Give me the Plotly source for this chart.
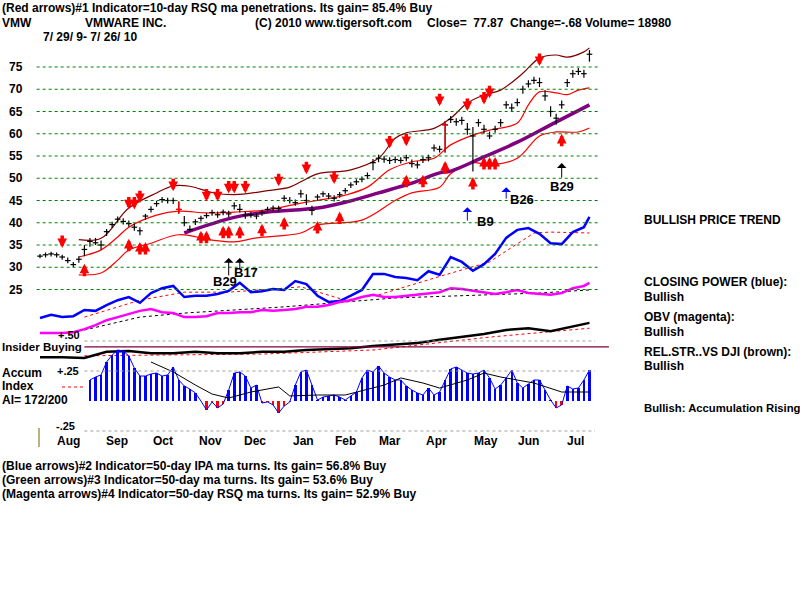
import plotly.graph_objects as go

# ---------------- data ----------------
close = [32.5,32.8,33.0,32.8,32.3,31.5,30.6,31.8,34.0,35.8,
         35.5,35.0,38.0,39.6,40.8,40.3,39.8,39.0,38.2,41.5,
         43.0,44.3,45.2,45.0,45.0,43.0,40.0,38.5,40.2,41.0,
         41.6,42.3,41.8,42.4,42.0,43.8,43.0,41.7,41.8,41.5,
         42.3,43.0,43.3,43.2,45.5,45.0,44.5,46.5,45.0,42.8,
         45.8,46.5,46.0,45.5,46.3,47.2,48.5,49.2,49.8,50.6,
         53.5,54.5,54.3,54.0,54.2,54.0,54.6,53.3,53.0,54.2,
         54.6,56.8,56.5,62.0,63.2,62.7,63.0,61.0,59.5,62.5,
         61.0,59.5,61.0,62.5,66.5,65.8,67.0,70.0,71.2,72.0,
         71.5,68.5,65.0,63.5,66.5,71.5,73.5,74.0,73.5,77.87]
high = [33.0,33.3,33.5,33.3,32.8,32.2,31.2,32.5,35.0,36.6,
        36.6,36.0,38.6,40.2,41.4,41.0,40.5,39.8,39.0,42.0,
        43.7,44.9,45.8,45.6,45.6,44.8,41.5,39.4,40.8,41.6,
        42.2,42.9,42.5,43.0,42.7,44.6,44.2,42.5,42.4,42.2,
        42.9,43.6,43.9,43.8,46.2,45.8,45.2,47.4,46.4,43.8,
        46.4,47.1,46.7,46.2,46.9,47.8,49.1,49.8,50.4,51.3,
        54.3,55.3,55.0,54.7,54.9,54.7,55.3,54.2,53.8,54.9,
        55.3,57.6,57.3,62.8,64.0,63.5,63.8,62.4,61.5,63.3,
        62.0,60.5,61.8,63.3,67.3,66.8,67.9,70.8,72.0,72.8,
        72.6,69.8,66.2,64.5,67.5,72.3,74.3,74.8,74.4,78.8]
low = [32.0,32.2,32.4,32.2,31.7,30.9,30.0,31.0,32.5,34.6,
       35.0,34.0,37.0,38.8,40.0,39.6,39.1,38.2,37.2,40.6,
       42.3,43.6,44.5,44.3,44.2,42.0,39.2,37.9,39.5,40.3,
       41.0,41.6,41.1,41.7,41.3,43.0,42.3,40.9,41.1,40.8,
       41.6,42.3,42.6,42.5,44.7,44.3,43.8,45.6,44.0,41.7,
       45.0,45.8,45.3,44.8,45.6,46.5,47.8,48.5,49.1,49.8,
       51.8,53.6,53.5,53.2,53.4,53.3,53.8,52.4,52.2,53.4,
       53.8,56.0,55.8,55.8,62.4,61.8,62.0,59.8,51.5,61.6,
       60.0,58.8,60.2,61.6,65.6,65.0,66.2,69.0,70.4,71.2,
       70.5,67.4,63.8,62.0,65.6,70.5,72.6,73.2,72.6,76.2]
bar_idx = list(range(len(close)))
red_bar_idx = [25, 73]

upper_idx = [7,11,16,21,24,27,31,35,41,45,47,50,56,61,64,66,71,74,77,80,83,87,90,93,95,98,99]
upper_val = [36.2,36.5,43.3,46.7,48.3,48.2,46.8,46.3,47.2,48.0,49.2,51.0,51.9,54.5,59.0,60.2,61.2,63.5,66.9,68.7,69.8,73.6,77.0,77.7,77.2,78.4,79.3]
mid_idx = [7,11,14,16,21,25,30,35,41,47,50,55,59,63,67,71,74,78,81,86,88,90,93,95,97,99]
mid_val = [32.3,33.9,36.8,39.0,41.7,42.6,42.2,42.4,42.9,44.4,45.0,46.2,48.0,51.9,53.7,54.5,57.5,59.7,60.8,62.4,66.5,69.4,69.2,68.8,69.8,70.3]
lower_idx = [7,11,14,16,20,25,31,35,39,47,50,58,64,67,72,74,78,81,86,90,93,97,99]
lower_val = [28.3,28.7,31.6,33.9,35.4,37.3,36.1,35.7,36.6,37.7,39.5,40.6,45.0,46.7,48.0,51.0,53.5,53.0,54.5,59.5,60.4,60.4,61.3]
ma50_idx = [26,35,41,50,55,61,67,72,74,80,86,92,99]
ma50_val = [37.7,41.2,42.4,43.3,44.6,46.7,48.9,51.2,51.6,54.8,58.1,62.0,66.5]

# indicator lines (in price-equivalent chart units)
cp_idx = list(range(0, 100, 2)) + [99]
cp_val = [18.6,19.3,18.8,19.0,20.4,20.2,21.5,22.6,23.3,22.0,
          24.2,25.3,25.8,23.3,23.6,23.6,24.0,24.7,26.5,24.4,
          24.6,25.1,24.9,26.9,26.2,23.6,22.2,22.4,23.6,24.9,
          28.5,28.5,27.8,27.6,27.1,29.1,28.3,32.3,31.2,29.2,
          30.7,33.0,36.6,38.4,38.8,37.5,35.4,35.2,37.9,39.0,41.3]
cp_ma_idx = [8,18,26,34,44,47,55,61,73,81,89,92,99]
cp_ma_val = [18.8,22.6,24.4,24.4,25.3,25.6,22.6,23.8,28.3,31.2,37.7,37.9,37.7]
obv_val = [15.2,15.2,15.2,15.4,16.1,17.0,18.1,18.8,19.5,20.2,
           20.6,19.9,19.7,18.8,18.8,19.0,19.7,19.7,19.9,19.9,
           20.4,20.2,20.4,20.6,21.1,21.1,21.5,22.2,22.6,23.3,
           23.8,23.3,23.3,23.6,23.8,24.2,24.4,25.3,25.1,24.7,
           24.4,24.0,24.4,24.9,24.2,24.0,23.8,24.2,25.3,25.8,26.5]
obv_ma_idx = [8,18,26,44,64,90,99]
obv_ma_val = [15.9,18.8,19.7,21.1,23.1,24.2,24.9]
rs_idx = list(range(0, 100, 4)) + [99]
rs_val = [9.8,9.8,9.6,11.0,11.2,10.7,10.7,11.0,10.7,10.7,
          11.0,11.0,11.4,11.6,11.8,12.3,12.7,13.0,13.7,14.3,
          15.0,15.9,16.3,15.6,16.6,17.5]
rs_ma_idx = [8,40,60,68,81,99]
rs_ma_val = [10.1,10.5,11.4,12.5,14.3,16.3]
insider_level = 12.1

accum_idx = list(range(9, 100))
accum_val = [0.175,0.20,0.217,0.325,0.383,0.425,0.417,0.375,0.275,0.208,
             0.208,0.225,0.233,0.208,0.217,0.283,0.175,0.125,0.10,0.067,
             0.0,-0.075,-0.008,-0.058,-0.025,0.092,0.233,0.242,0.208,0.108,
             0.133,-0.017,-0.008,-0.033,-0.10,-0.042,-0.008,0.133,0.242,0.258,
             0.133,0.008,0.033,0.042,0.05,0.033,0.008,0.042,0.075,0.192,
             0.258,0.242,0.292,0.233,0.20,0.175,0.175,0.125,0.092,0.067,
             0.05,0.108,0.05,0.075,0.175,0.267,0.283,0.258,0.233,0.225,
             0.233,0.258,0.192,0.10,0.133,0.192,0.258,0.15,0.108,0.142,
             0.175,0.175,0.092,0.008,-0.058,-0.033,0.125,0.10,0.108,0.175,0.258]
accum_ma_idx = [20,24,28,31,34,38,43,45,50,55,62,65,69,72,77,80,83,89,94,99]
accum_ma_val = [0.325,0.242,0.133,0.058,0.025,0.075,0.117,0.042,0.05,0.05,0.133,0.192,0.15,0.108,0.175,0.233,0.20,0.15,0.075,0.075]

# red arrows (tip positions)
down_idx = [4,16,17,18,24,30,32,34,35,37,43,48,53,63,66,72,77,80,81,90]
down_val = [34.3,43.0,43.0,44.4,47.1,44.8,44.8,46.6,46.6,46.6,48.2,50.9,48.7,56.7,57.2,66.2,65.1,66.6,68.0,75.2]
up_idx = [8,16,18,19,29,30,33,34,36,40,44,50,54,66,69,73,78,80,81,82,94]
up_val = [30.8,36.4,35.7,35.7,38.2,38.2,39.3,39.3,39.3,39.8,41.3,40.4,42.5,50.8,50.8,53.9,50.3,54.8,54.8,54.8,60.0]

signal_idx = [34, 36, 77, 84, 94]
signal_val = [32.1, 32.1, 43.5, 48.0, 53.4]
signal_txt = ["B29", "B17", "B9", "B26", "B29"]
signal_col = ["black", "black", "blue", "blue", "black"]

price_ticks = [75, 70, 65, 60, 55, 50, 45, 40, 35, 30, 25]
months = ["Aug","Sep","Oct","Nov","Dec","Jan","Feb","Mar","Apr","May","Jun","Jul"]
month_pos = [5.2,13.9,22.2,30.8,38.7,47.4,55.1,63.1,71.4,80.4,88.1,96.4]
accum_ticks = [0.5, 0.25, -0.25]

# ---------------- geometry (pixel mapping of the 800x600 canvas) ----------------
W, H = 800, 600
X0, DX = 40.0, 5.55            # first bar pixel, pixels per bar
P_PX, P_VAL, P_SCALE = 67.0, 75.0, 4.45   # price 75 at y=67px, 4.45 px per $
A_ZERO, A_SCALE = 401.0, 120.0            # accum zero line px, px per unit

xr = [(0 - X0) / DX, (W - X0) / DX]
yr = [P_VAL - (H - P_PX) / P_SCALE, P_VAL + P_PX / P_SCALE]
ar = [-(H - A_ZERO) / A_SCALE, A_ZERO / A_SCALE]

FONT = "Liberation Sans"
fig = go.Figure()

shapes = []
for lv in price_ticks:
    shapes.append(dict(type="line", xref="x", yref="y", x0=-0.6, x1=101, y0=lv, y1=lv,
                       line=dict(color="#008000", width=1, dash="dot")))
for lv in accum_ticks:
    shapes.append(dict(type="line", xref="x", yref="y3", x0=8, x1=100, y0=lv, y1=lv,
                       line=dict(color="#a0a0a0", width=1, dash="dot")))
shapes.append(dict(type="line", xref="x", yref="y", x0=8, x1=102.5, y0=insider_level, y1=insider_level,
                   line=dict(color="#800040", width=1.2)))

# bands
fig.add_trace(go.Scatter(x=upper_idx, y=upper_val, mode="lines", line=dict(color="#800000", width=1.2, shape="spline")))
fig.add_trace(go.Scatter(x=mid_idx, y=mid_val, mode="lines", line=dict(color="#ff0000", width=1.2, shape="spline")))
fig.add_trace(go.Scatter(x=lower_idx, y=lower_val, mode="lines", line=dict(color="#ff0000", width=1.2, shape="spline")))
fig.add_trace(go.Scatter(x=ma50_idx, y=ma50_val, mode="lines", line=dict(color="#800080", width=3.5, shape="spline")))

# price bars
fig.add_trace(go.Scatter(
    x=bar_idx, y=close, mode="markers",
    marker=dict(symbol="line-ew", size=4, line=dict(color="black", width=1.2)),
    error_y=dict(type="data", symmetric=False,
                 array=[h - c for h, c in zip(high, close)],
                 arrayminus=[c - l for c, l in zip(close, low)],
                 color="black", thickness=1.2, width=0)))
fig.add_trace(go.Scatter(
    x=red_bar_idx, y=[close[i] for i in red_bar_idx], mode="markers",
    marker=dict(symbol="line-ew", size=4, line=dict(color="#ff0000", width=1.2)),
    error_y=dict(type="data", symmetric=False,
                 array=[high[i] - close[i] for i in red_bar_idx],
                 arrayminus=[close[i] - low[i] for i in red_bar_idx],
                 color="#ff0000", thickness=1.4, width=0)))

# indicators
fig.add_trace(go.Scatter(x=cp_ma_idx, y=cp_ma_val, mode="lines", line=dict(color="#ff0000", width=1, dash="dot")))
fig.add_trace(go.Scatter(x=cp_idx, y=cp_val, mode="lines", line=dict(color="#0000ff", width=2.5)))
fig.add_trace(go.Scatter(x=obv_ma_idx, y=obv_ma_val, mode="lines", line=dict(color="black", width=1, dash="dot")))
fig.add_trace(go.Scatter(x=cp_idx, y=obv_val, mode="lines", line=dict(color="#ff00ff", width=2.5)))
fig.add_trace(go.Scatter(x=rs_ma_idx, y=rs_ma_val, mode="lines", line=dict(color="#ff0000", width=1, dash="dot")))
fig.add_trace(go.Scatter(x=rs_idx, y=rs_val, mode="lines", line=dict(color="black", width=2.5)))

# accumulation index
acc_col = ["#0000ff" if v >= 0 else "#ff0000" for v in accum_val]
fig.add_trace(go.Bar(x=accum_idx, y=accum_val, width=0.45, marker=dict(color=acc_col, line=dict(width=0)),
                     yaxis="y3"))
fig.add_trace(go.Scatter(x=accum_idx, y=accum_val, mode="lines", line=dict(color="#0000ff", width=1), yaxis="y3"))
fig.add_trace(go.Scatter(x=accum_ma_idx, y=accum_ma_val, mode="lines", line=dict(color="black", width=1), yaxis="y3"))

# ---------------- texts ----------------
ann = []
def txt(px, py, s, size=12, color="black", anchor="left"):
    ann.append(dict(xref="paper", yref="paper", x=px / W, y=1 - py / H, text="<b>%s</b>" % s,
                    showarrow=False, xanchor=anchor, yanchor="middle",
                    font=dict(family=FONT, size=size, color=color)))

txt(0, 8, "(Red arrows)#1 Indicator=10-day RSQ ma penetrations. Its gain= 85.4% Buy")
txt(0, 23, "VMW")
txt(83, 23, "VMWARE INC.")
txt(253, 23, "(C) 2010 www.tigersoft.com")
txt(425, 23, "Close=&nbsp;&nbsp;77.87&nbsp;&nbsp;Change=-.68 Volume= 18980")
txt(41, 37, "7/ 29/ 9- 7/ 26/ 10")
txt(642, 220, "BULLISH PRICE TREND")
txt(642, 282, "CLOSING POWER (blue):")
txt(642, 297, "Bullish")
txt(642, 317, "OBV (magenta):")
txt(642, 332, "Bullish")
txt(642, 352, "REL.STR..VS DJI (brown):")
txt(642, 366, "Bullish")
txt(642, 408, "Bullish: Accumulation Rising", size=11.3)
txt(56, 335, "+.50", size=11)
txt(0, 347, "Insider Buying", size=11.5)
txt(0, 373, "Accum")
txt(55, 371, "+.25", size=11)
txt(0, 386, "Index")
txt(0, 400, "AI= 172/200")
txt(54, 426, "-.25", size=11)
txt(0, 466, "(Blue arrows)#2 Indicator=50-day IPA ma turns. Its gain= 56.8% Buy")
txt(0, 480, "(Green arrows)#3 Indicator=50-day ma turns. Its gain= 53.6% Buy")
txt(0, 494, "(Magenta arrows)#4 Indicator=50-day RSQ ma turns. Its gain= 52.9% Buy")

for lv in price_ticks:
    ann.append(dict(xref="paper", yref="y", x=7 / W, y=lv, text="<b>%d</b>" % lv, showarrow=False,
                    xanchor="left", yanchor="middle", font=dict(family=FONT, size=12, color="black")))
for m, p in zip(months, month_pos):
    ann.append(dict(xref="x", yref="paper", x=p, y=1 - 441 / H, text="<b>%s</b>" % m, showarrow=False,
                    xanchor="center", yanchor="middle", font=dict(family=FONT, size=12, color="black")))

# red signal arrows
for i, v in zip(down_idx, down_val):
    ann.append(dict(xref="x", yref="y", x=i, y=v, text="", showarrow=True, arrowhead=2, arrowsize=0.55,
                    arrowwidth=3.5, arrowcolor="#ff0000", ax=0, ay=-14, standoff=0))
for i, v in zip(up_idx, up_val):
    ann.append(dict(xref="x", yref="y", x=i, y=v, text="", showarrow=True, arrowhead=2, arrowsize=0.55,
                    arrowwidth=3.5, arrowcolor="#ff0000", ax=0, ay=14, standoff=0))

# buy signals with labels
sig_len = [19, 12, 15, 13, 16]
sig_dx = [-4, 6, 18, 16, 0]
sig_dy = [24, 15, 14, 12, 23]
for i, v, t, c, L, dx, dy in zip(signal_idx, signal_val, signal_txt, signal_col, sig_len, sig_dx, sig_dy):
    ann.append(dict(xref="x", yref="y", x=i, y=v, text="", showarrow=True, arrowhead=1, arrowsize=1.6,
                    arrowwidth=1, arrowcolor=c, ax=0, ay=L, standoff=0))
    ann.append(dict(xref="x", yref="y", x=i, y=v, text="<b>%s</b>" % t, showarrow=False,
                    xanchor="center", yanchor="middle", xshift=dx, yshift=-dy,
                    font=dict(family=FONT, size=13, color="black")))

shapes.append(dict(type="line", xref="paper", yref="paper", x0=62 / W, x1=85 / W, y0=1 - 387 / H, y1=1 - 387 / H,
                   line=dict(color="#ff0000", width=1, dash="dot")))
shapes.append(dict(type="line", xref="paper", yref="paper", x0=39 / W, x1=39 / W, y0=1 - 428 / H, y1=1 - 447 / H,
                   line=dict(color="#806000", width=1)))

fig.update_layout(
    width=W, height=H, margin=dict(l=0, r=0, t=0, b=0),
    paper_bgcolor="white", plot_bgcolor="white", showlegend=False,
    xaxis=dict(range=xr, visible=False, domain=[0, 1]),
    yaxis=dict(range=yr, visible=False, domain=[0, 1]),
    yaxis3=dict(range=ar, visible=False, overlaying="y"),
    shapes=shapes, annotations=ann, bargap=0,
)

fig.write_html("out.html", config={"displayModeBar": False},
               post_script="document.body.style.margin='0px';document.body.style.padding='0px';")
